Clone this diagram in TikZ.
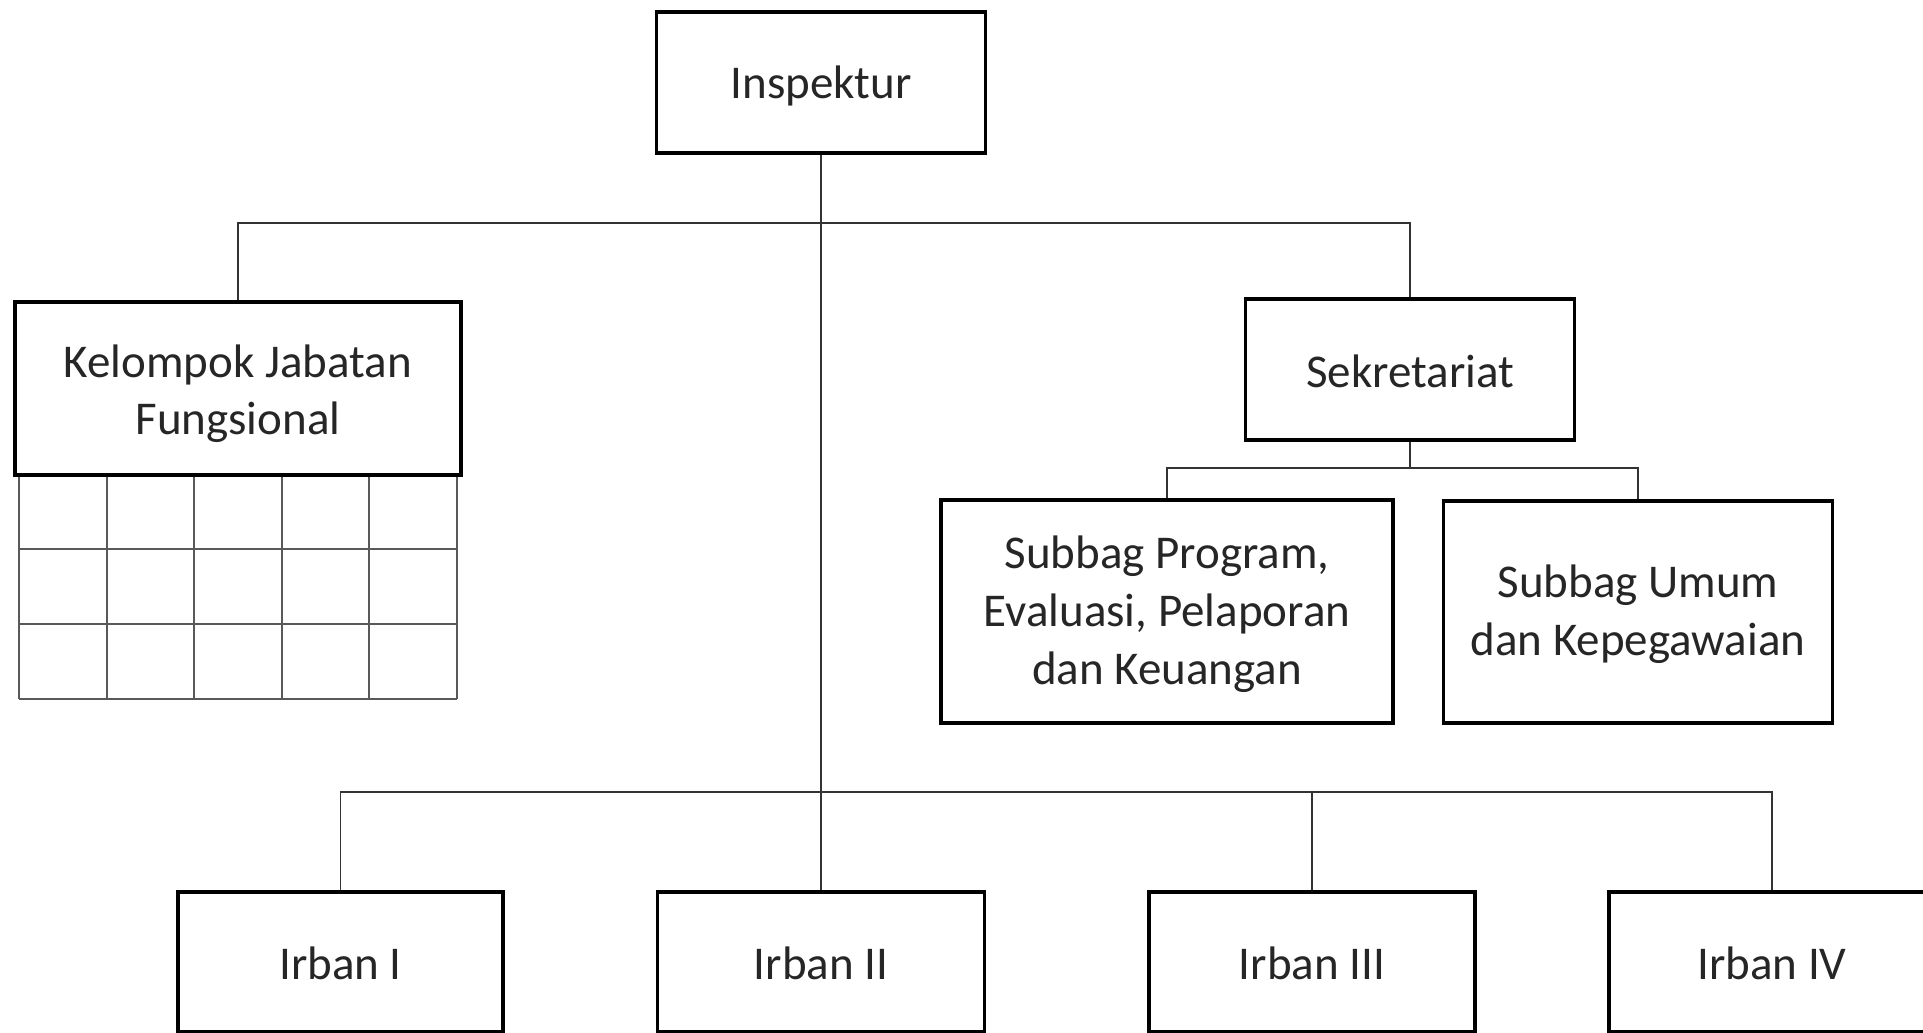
\documentclass[tikz,border=0pt]{standalone}
\usepackage{fontspec}
\setmainfont{Carlito}
\begin{document}
\begin{tikzpicture}[x=1pt,y=-1pt,
  orgbox/.style={draw=black, line width=3.5pt, fill=white, inner sep=0pt},
  txt/.style={anchor=base, inner sep=0pt, font=\fontsize{47}{58}\selectfont, text=black!85},
  link/.style={draw=black!80, line width=1.6pt},
  gridln/.style={draw=black!65, line width=2pt}]
\useasboundingbox[fill=white] (0,0) rectangle (1923,1033);

% grid under Kelompok Jabatan Fungsional
\foreach \gx in {19,106.6,194.2,281.8,369.4,457}{
  \draw[gridln] (\gx,475) -- (\gx,699);
}
\foreach \gy in {549,624,699}{
  \draw[gridln] (19,\gy) -- (457,\gy);
}

% boxes
\node[orgbox, minimum width=329pt, minimum height=141pt] (insp) at (821,82.5) {};
\node[orgbox, minimum width=446pt, minimum height=173pt] (kjf) at (238,388.5) {};
\node[orgbox, minimum width=329pt, minimum height=141pt] (sek) at (1410,369.5) {};
\node[orgbox, minimum width=452pt, minimum height=223pt] (sp) at (1167,611.5) {};
\node[orgbox, minimum width=389pt, minimum height=222pt] (su) at (1638,612) {};
\node[orgbox, minimum width=325pt, minimum height=140pt] (ir1) at (340.5,962) {};
\node[orgbox, minimum width=327pt, minimum height=140pt] (ir2) at (821,962) {};
\node[orgbox, minimum width=326pt, minimum height=140pt] (ir3) at (1312,962) {};
\node[orgbox, minimum width=326pt, minimum height=140pt] (ir4) at (1772,962) {};

% texts
\node[txt] (insp-t) at (821,99) {Inspektur};
\node[txt] (kjf-t1) at (238,377) {Kelompok Jabatan};
\node[txt] (kjf-t2) at (238,434) {Fungsional};
\node[txt] (sek-t) at (1410,387) {Sekretariat};
\node[txt] (sp-t1) at (1167,568) {Subbag Program,};
\node[txt] (sp-t2) at (1167,626) {Evaluasi, Pelaporan};
\node[txt] (sp-t3) at (1167,684) {dan Keuangan};
\node[txt] (su-t1) at (1638,597) {Subbag Umum};
\node[txt] (su-t2) at (1638,655) {dan Kepegawaian};
\node[txt] (ir1-t) at (340.5,979) {Irban I};
\node[txt] (ir2-t) at (821,979) {Irban II};
\node[txt] (ir3-t) at (1312,979) {Irban III};
\node[txt] (ir4-t) at (1772,979) {Irban IV};

% junction coordinates
\coordinate (topbar) at (821,223);
\coordinate (sekbar) at (1410,468);
\coordinate (irbar) at (821,792);

% connectors
\draw[link] (insp.south) -- (ir2.north);
\draw[link] (kjf.north) |- (topbar) -| (sek.north);
\draw[link] (sek.south) -- (sekbar);
\draw[link] (sp.north) |- (sekbar) -| (su.north);
\draw[link] (ir1.north) |- (irbar) -| (ir4.north);
\draw[link] (ir3.north) -- (ir3.north |- irbar);
\end{tikzpicture}
\end{document}
